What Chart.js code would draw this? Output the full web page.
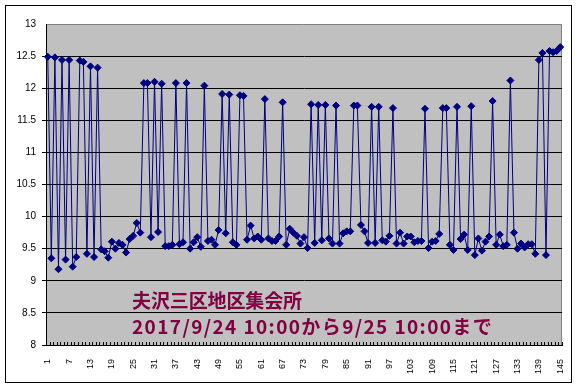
<!DOCTYPE html>
<html><head><meta charset="utf-8">
<script src="https://cdn.jsdelivr.net/npm/chart.js@4.4.1/dist/chart.umd.min.js"></script>
<style>html,body{margin:0;padding:0;background:#fff}#wrap{width:578px;height:389px;position:relative}</style>
</head><body><div id="wrap"><canvas id="c" width="578" height="389"></canvas></div>
<script>
const categories = Array.from({length:145}, (_, i) => String(i + 1));
const values = [
12.49,9.35,12.48,9.18,12.44,9.33,12.44,9.22,9.37,12.43,
12.41,9.42,12.34,9.37,12.32,9.49,9.46,9.36,9.61,9.50,
9.59,9.56,9.44,9.65,9.70,9.90,9.75,12.08,12.08,9.68,
12.10,9.76,12.07,9.54,9.54,9.56,12.08,9.57,9.60,12.08,
9.50,9.60,9.68,9.53,12.04,9.62,9.64,9.56,9.79,11.91,
9.74,11.90,9.60,9.56,11.89,11.88,9.64,9.86,9.66,9.69,
9.64,11.83,9.66,9.62,9.62,9.69,11.78,9.56,9.81,9.75,
9.70,9.58,9.68,9.51,11.75,9.59,11.74,9.63,11.74,9.66,
9.58,11.73,9.58,9.74,9.77,9.77,11.73,11.73,9.87,9.77,
9.59,11.71,9.59,11.71,9.63,9.61,9.70,11.69,9.58,9.75,
9.58,9.69,9.69,9.60,9.62,9.62,11.68,9.51,9.61,9.62,
9.73,11.69,11.69,9.56,9.48,11.71,9.65,9.72,9.48,11.72,
9.40,9.66,9.47,9.61,9.69,11.80,9.56,9.72,9.54,9.56,
12.12,9.75,9.50,9.58,9.52,9.57,9.57,9.42,12.44,12.55,
9.40,12.58,12.56,12.58,12.64
];
const titleLines = ['夫沢三区地区集会所', '2017/9/24 10:00から9/25 10:00まで'];
const yMin = 8, yMax = 13, yStep = 0.5;
const xLabelEvery = 6;

function drawFitted(ctx, text, x, y, width) {
  ctx.letterSpacing = '0px';
  const w = ctx.measureText(text).width;
  const n = [...text].length;
  const ls = (width - w) / n;
  ctx.letterSpacing = ls.toFixed(2) + 'px';
  ctx.fillText(text, x, y);
  ctx.letterSpacing = '0px';
}

const framePlugin = {
  id: 'frame',
  beforeDraw(chart) {
    const {ctx, chartArea: a} = chart;
    ctx.save();
    ctx.fillStyle = '#fff';
    ctx.fillRect(0, 0, chart.width, chart.height);
    ctx.strokeStyle = '#000';
    ctx.lineWidth = 1;
    ctx.strokeRect(5.5, 5.5, 566, 377);
    ctx.fillStyle = '#C0C0C0';
    ctx.fillRect(a.left, a.top, a.right - a.left, a.bottom - a.top);
    ctx.strokeStyle = '#808080';
    ctx.beginPath();
    ctx.moveTo(a.left, a.top + 0.5); ctx.lineTo(a.right - 0.5, a.top + 0.5); ctx.lineTo(a.right - 0.5, a.bottom);
    ctx.stroke();
    ctx.restore();
  },
  beforeDatasetsDraw(chart) {
    const {ctx, chartArea: a, scales} = chart;
    const xs = scales.x;
    ctx.save();
    ctx.strokeStyle = '#000';
    ctx.lineWidth = 1;
    const step = xs.getPixelForValue(1) - xs.getPixelForValue(0);
    ctx.beginPath();
    for (let i = 0; i <= categories.length; i++) {
      const x = Math.round(xs.getPixelForValue(i) - step / 2) + 0.5;
      ctx.moveTo(x, a.bottom);
      ctx.lineTo(x, a.bottom - 3);
    }
    ctx.stroke();
    ctx.fillStyle = '#800040';
    ctx.font = 'bold 19px "Noto Sans CJK JP"';
    ctx.textBaseline = 'alphabetic';
    drawFitted(ctx, titleLines[0], 132, 308, 170);
    drawFitted(ctx, titleLines[1], 132, 334, 361);
    ctx.restore();
  }
};

new Chart(document.getElementById('c'), {
  type: 'line',
  data: {
    labels: categories,
    datasets: [{
      data: values,
      borderColor: '#000080',
      backgroundColor: '#000080',
      borderWidth: 1,
      pointStyle: 'rectRot',
      pointRadius: 3.5,
      pointBorderWidth: 1,
      pointBorderColor: '#000080',
      pointBackgroundColor: '#000080',
      tension: 0
    }]
  },
  options: {
    responsive: false,
    animation: false,
    devicePixelRatio: 1,
    layout: {padding: {left: 0, top: 24, right: 16, bottom: 0}},
    plugins: {legend: {display: false}, tooltip: {enabled: false}},
    scales: {
      x: {
        type: 'category',
        offset: true,
        afterFit(s) { s.height = 44; },
        grid: {display: false},
        border: {display: true, color: '#000', width: 1},
        ticks: {
          autoSkip: false,
          minRotation: 90, maxRotation: 90,
          padding: 6,
          color: '#000',
          font: {family: '"Liberation Sans", Arial', size: 9},
          callback(v, i) { return i % xLabelEvery === 0 ? categories[i] : ''; }
        }
      },
      y: {
        min: yMin, max: yMax,
        afterFit(s) { s.width = 46; },
        border: {display: true, color: '#000', width: 1},
        grid: {
          color: (c) => (c.tick && c.tick.value === yMax) ? 'rgba(0,0,0,0)' : '#000',
          lineWidth: 1,
          drawTicks: true,
          tickLength: 4
        },
        ticks: {
          stepSize: yStep,
          padding: 6,
          color: '#000',
          font: {family: '"Liberation Sans", Arial', size: 10},
          callback(v) { return String(Math.round(v * 10) / 10); }
        }
      }
    }
  },
  plugins: [framePlugin]
});
</script></body></html>
